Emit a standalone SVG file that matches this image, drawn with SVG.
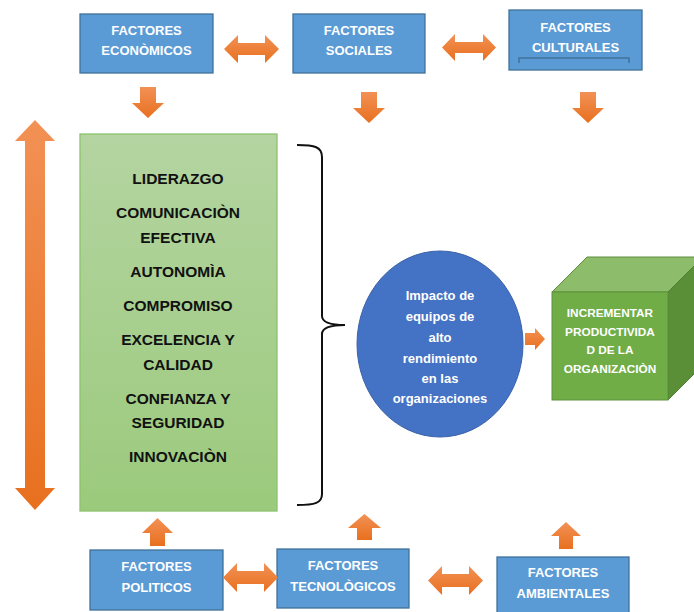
<svg xmlns="http://www.w3.org/2000/svg" width="694" height="612" viewBox="0 0 694 612">
<defs>
<linearGradient id="og" x1="0" y1="0" x2="0" y2="1"><stop offset="0" stop-color="#f29155"/><stop offset="1" stop-color="#e8701f"/></linearGradient>
<linearGradient id="gg" x1="0" y1="0" x2="0" y2="1"><stop offset="0" stop-color="#b4d4a1"/><stop offset="1" stop-color="#9bca7c"/></linearGradient>
<style>
.box{fill:#5b9bd5;stroke:#41719c;stroke-width:1.3}
.bt{font-family:"Liberation Sans",Arial,sans-serif;font-weight:bold;font-size:13px;fill:#fff;text-anchor:middle}
.gt{font-family:"Liberation Sans",Arial,sans-serif;font-weight:bold;font-size:15.5px;fill:#111;text-anchor:middle}
.ct{font-family:"Liberation Sans",Arial,sans-serif;font-weight:bold;font-size:13px;fill:#fff;text-anchor:middle}
.kt{font-family:"Liberation Sans",Arial,sans-serif;font-weight:bold;font-size:11.8px;fill:#fff;text-anchor:middle}
.arr{fill:url(#og)}
</style>
</defs>
<rect width="694" height="612" fill="#fff"/>

<g id="economicos"><rect class="box" x="80" y="14" width="133" height="59"/><text class="bt" x="146.5" y="35">FACTORES</text><text class="bt" x="146.5" y="55">ECONÒMICOS</text></g>
<g id="sociales"><rect class="box" x="293" y="14" width="132" height="59"/><text class="bt" x="359" y="35">FACTORES</text><text class="bt" x="359" y="55">SOCIALES</text></g>
<g id="culturales"><rect class="box" x="509" y="10" width="133" height="60"/><text class="bt" x="575.5" y="32">FACTORES</text><text class="bt" x="575.5" y="52">CULTURALES</text><path d="M519,63 L519,58 L629,58 L629,63" fill="none" stroke="#41719c" stroke-width="1.5"/></g>

<g id="factores-centro"><rect x="80" y="134" width="197" height="377" fill="url(#gg)" stroke="#8dc26c" stroke-width="1.3"/>
<text class="gt" x="178" y="184">LIDERAZGO</text>
<text class="gt" x="178" y="218">COMUNICACIÒN</text>
<text class="gt" x="178" y="243">EFECTIVA</text>
<text class="gt" x="178" y="277">AUTONOMÌA</text>
<text class="gt" x="178" y="311">COMPROMISO</text>
<text class="gt" x="178" y="345">EXCELENCIA Y</text>
<text class="gt" x="178" y="370">CALIDAD</text>
<text class="gt" x="178" y="404">CONFIANZA Y</text>
<text class="gt" x="178" y="428">SEGURIDAD</text>
<text class="gt" x="178" y="462">INNOVACIÒN</text>
</g>

<g id="impacto"><ellipse cx="440" cy="344" rx="83" ry="93" fill="#4472c4" stroke="#3a62a8" stroke-width="1"/>
<text class="ct" x="440" y="300">Impacto de</text>
<text class="ct" x="440" y="321">equipos de</text>
<text class="ct" x="440" y="342">alto</text>
<text class="ct" x="440" y="363">rendimiento</text>
<text class="ct" x="440" y="383">en las</text>
<text class="ct" x="440" y="403">organizaciones</text>
</g>

<g id="productividad">
<polygon points="552,292 587,257 703,257 668,292" fill="#8dbd6b" stroke="#5e8f3d" stroke-width="1"/>
<polygon points="668,292 703,257 703,365 668,400" fill="#5a8f37" stroke="#4e7e30" stroke-width="1"/>
<rect x="552" y="292" width="116" height="108" fill="#70ad47" stroke="#5e8f3d" stroke-width="1"/>
<text class="kt" x="610" y="317">INCREMENTAR</text>
<text class="kt" x="610" y="336">PRODUCTIVIDA</text>
<text class="kt" x="610" y="354">D DE LA</text>
<text class="kt" x="610" y="373">ORGANIZACIÒN</text>
</g>

<g id="politicos"><rect class="box" x="90" y="550" width="133" height="60"/><text class="bt" x="156.5" y="571">FACTORES</text><text class="bt" x="156.5" y="592">POLITICOS</text></g>
<g id="tecnologicos"><rect class="box" x="277" y="549" width="132" height="59"/><text class="bt" x="343" y="570">FACTORES</text><text class="bt" x="343" y="591">TECNOLÒGICOS</text></g>
<g id="ambientales"><rect class="box" x="497" y="557" width="132" height="58"/><text class="bt" x="563" y="577">FACTORES</text><text class="bt" x="563" y="598">AMBIENTALES</text></g>

<g id="connectors">
<path class="arr" d="M224,49 L238,35 L238,43 L265,43 L265,35 L279,49 L265,63 L265,55 L238,55 L238,63 Z"/>
<path class="arr" d="M442,47.5 L455,34 L455,42 L483,42 L483,34 L496,47.5 L483,61 L483,53 L455,53 L455,61 Z"/>
<path class="arr" d="M223,577.5 L237,563 L237,571 L264,571 L264,563 L278,577.5 L264,592 L264,584 L237,584 L237,592 Z"/>
<path class="arr" d="M428,580.5 L442,566 L442,574 L469,574 L469,566 L483,580.5 L469,595 L469,587 L442,587 L442,595 Z"/>
<path class="arr" d="M140,87 L156,87 L156,103 L164,103 L148,118 L132,103 L140,103 Z"/>
<path class="arr" d="M361,92 L377,92 L377,108 L385,108 L369,123 L353,108 L361,108 Z"/>
<path class="arr" d="M580,92 L596,92 L596,108 L604,108 L588,123 L572,108 L580,108 Z"/>
<path class="arr" d="M150,546 L165,546 L165,533 L173,533 L157.5,518 L142,533 L150,533 Z"/>
<path class="arr" d="M357,540 L372,540 L372,528 L381,528 L364.5,514 L348,528 L357,528 Z"/>
<path class="arr" d="M559,549 L573,549 L573,536 L581,536 L566,522 L551,536 L559,536 Z"/>
<path class="arr" d="M525,333 L535,333 L535,328 L545,339 L535,350 L535,345 L525,345 Z"/>
<path class="arr" d="M35,120 L55,141 L45,141 L45,488 L55,488 L35,510 L15,488 L25,488 L25,141 L15,141 Z"/>
<path d="M297,145 C315,145 322,147 322,157 L322,316 C322,322 330,325 345,325 C330,325 322,328 322,334 L322,494 C322,503 315,505 297,505" fill="none" stroke="#111" stroke-width="2"/>
</g>
</svg>
